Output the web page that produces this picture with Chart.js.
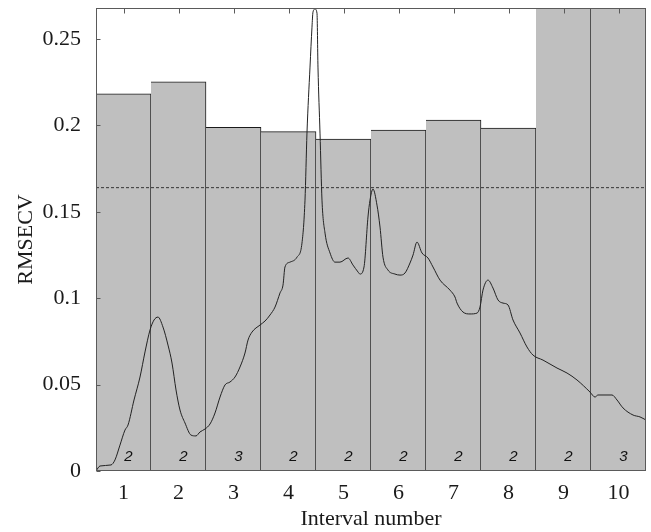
<!DOCTYPE html>
<html>
<head>
<meta charset="utf-8">
<script src="https://cdn.jsdelivr.net/npm/chart.js@4"></script>
<style>
  html, body { margin: 0; padding: 0; background: #fff; }
  #wrap { width: 651px; height: 532px; }
</style>
</head>
<body>
<div id="wrap"><canvas id="chart"></canvas></div>
<script>
"use strict";

// ── Data ──────────────────────────────────────────────────────────
const INTERVALS = ["1","2","3","4","5","6","7","8","9","10"];
const RMSECV    = [0.2183, 0.2253, 0.1989, 0.1964, 0.1921, 0.1973, 0.2031, 0.1985, 0.30, 0.30];
const N_LV      = [2, 2, 3, 2, 2, 2, 2, 2, 2, 3];
const GLOBAL_RMSECV = 0.164;
const Y_TICKS   = [0, 0.05, 0.1, 0.15, 0.2, 0.25];

// mean spectrum, scaled onto the interval axis
const SPEC_X = [0.5,0.573,0.773,0.845,0.936,1.027,1.082,1.191,1.300,1.391,1.482,1.555,1.627,1.718,1.809,1.882,1.955,2.027,2.118,2.227,2.318,2.391,2.482,2.573,2.664,2.755,2.845,2.936,3.027,3.118,3.209,3.264,3.336,3.482,3.573,3.664,3.755,3.845,3.900,3.936,4.027,4.155,4.245,4.300,4.336,4.391,4.427,4.445,4.482,4.518,4.536,4.573,4.609,4.664,4.755,4.845,4.936,5.082,5.173,5.264,5.300,5.373,5.445,5.482,5.536,5.609,5.664,5.718,5.809,5.936,6.027,6.118,6.209,6.264,6.336,6.427,6.536,6.627,6.755,6.936,7.027,7.064,7.173,7.300,7.427,7.482,7.536,7.627,7.718,7.809,7.900,7.991,8.082,8.209,8.336,8.445,8.627,8.882,9.064,9.245,9.482,9.573,9.627,9.882,9.973,10.082,10.264,10.391,10.5];
const SPEC_Y = [0,0.0029,0.0035,0.0064,0.0150,0.0237,0.0266,0.0411,0.0544,0.0689,0.0816,0.0874,0.0891,0.0833,0.0729,0.0625,0.0469,0.0353,0.0278,0.0208,0.0203,0.0226,0.0243,0.0272,0.0336,0.0428,0.0498,0.0515,0.0544,0.0602,0.0683,0.0758,0.0804,0.0845,0.0868,0.0903,0.0949,0.1030,0.1076,0.1181,0.1209,0.1238,0.1319,0.1568,0.1956,0.2338,0.2569,0.2656,0.2674,0.2650,0.2338,0.1956,0.1568,0.1377,0.1262,0.1209,0.1209,0.1233,0.1192,0.1152,0.1140,0.1181,0.1470,0.1568,0.1632,0.1539,0.1412,0.1238,0.1163,0.1140,0.1134,0.1146,0.1204,0.1250,0.1325,0.1262,0.1233,0.1181,0.1105,0.1047,0.1007,0.0972,0.0920,0.0909,0.0914,0.0949,0.1047,0.1105,0.1059,0.0990,0.0972,0.0961,0.0874,0.0799,0.0718,0.0671,0.0642,0.0596,0.0567,0.0527,0.0457,0.0428,0.0440,0.0440,0.0411,0.0365,0.0324,0.0313,0.0295];

// ── Style ─────────────────────────────────────────────────────────
const SERIF    = "'Liberation Serif', 'Times New Roman', serif";
const BAR_FILL = "#bfbfbf";
const INK      = "#1a1a1a";
const FRAME    = "#5a5a5a";

// frame, inward ticks and LV counts inside each bar
const decorations = {
  id: "decorations",
  afterDatasetsDraw(chart) {
    const { ctx, chartArea: a, scales } = chart;
    const L = Math.round(a.left) + 0.5, R = Math.round(a.right) - 0.5;
    const T = Math.round(a.top) + 0.5,  B = Math.round(a.bottom) - 0.5;
    ctx.save();
    ctx.lineWidth = 1;
    ctx.strokeStyle = FRAME;
    ctx.strokeRect(L, T, R - L, B - T);

    ctx.beginPath();
    INTERVALS.forEach((_, i) => {
      const x = Math.round(scales.x.getPixelForValue(i + 1)) + 0.5;
      ctx.moveTo(x, T); ctx.lineTo(x, T + 5);
    });
    Y_TICKS.forEach(v => {
      const y = Math.round(scales.y.getPixelForValue(v)) + 0.5;
      ctx.moveTo(L, y); ctx.lineTo(L + 4, y);
    });
    ctx.stroke();

    ctx.fillStyle = "#111";
    ctx.font = "italic 15px 'Liberation Sans', Arial, sans-serif";
    ctx.textAlign = "center";
    ctx.textBaseline = "middle";
    N_LV.forEach((n, i) => {
      const x = scales.x.getPixelForValue(i + 1 + 0.09);
      const y = scales.y.getPixelForValue(0.008);
      ctx.fillText(String(n), x, y);
    });
    ctx.restore();
  }
};

new Chart(document.getElementById("chart"), {
  type: "bar",
  data: {
    datasets: [
      {
        type: "line",
        data: SPEC_X.map((x, i) => ({ x, y: SPEC_Y[i] })),
        borderColor: "#222",
        borderWidth: 1,
        pointRadius: 0,
        cubicInterpolationMode: "monotone",
        order: 1
      },
      {
        type: "line",
        data: [{ x: 0.5, y: GLOBAL_RMSECV }, { x: 10.5, y: GLOBAL_RMSECV }],
        borderColor: "#333",
        borderWidth: 1,
        borderDash: [3, 2],
        pointRadius: 0,
        order: 2
      },
      {
        data: RMSECV.map((v, i) => ({ x: i + 1, y: v })),
        backgroundColor: BAR_FILL,
        borderColor: INK,
        borderWidth: { top: 1, right: 1, left: 0, bottom: 0 },
        borderSkipped: false,
        barPercentage: 1,
        categoryPercentage: 1,
        grouped: false,
        order: 3
      }
    ]
  },
  options: {
    responsive: true,
    maintainAspectRatio: false,
    animation: false,
    events: [],
    layout: { padding: { top: 8, right: 5, left: 0, bottom: 0 } },
    plugins: { legend: { display: false }, tooltip: { enabled: false } },
    scales: {
      x: {
        type: "linear",
        min: 0.5, max: 10.5,
        offset: false,
        grid: { display: false, offset: false },
        border: { display: false },
        afterBuildTicks: s => { s.ticks = INTERVALS.map((_, i) => ({ value: i + 1 })); },
        ticks: { color: INK, font: { family: SERIF, size: 22 }, padding: 1, maxRotation: 0,
                 callback: v => INTERVALS[Math.round(v) - 1] },
        title: { display: true, text: "Interval number", color: INK,
                 font: { family: SERIF, size: 22 }, padding: { top: 0, bottom: 0 } },
        afterFit: s => { s.height = 61; s.paddingLeft = 0; s.paddingRight = 0; }
      },
      y: {
        min: 0, max: 0.268,
        grid: { display: false },
        border: { display: false },
        afterBuildTicks: s => { s.ticks = Y_TICKS.map(v => ({ value: v })); },
        ticks: { color: INK, font: { family: SERIF, size: 22 }, padding: 7,
                 callback: v => String(+Number(v).toFixed(2)) },
        title: { display: true, text: "RMSECV", color: INK,
                 font: { family: SERIF, size: 22 }, padding: { top: 13, bottom: 0 } },
        afterFit: s => { s.width = 96; s.paddingTop = 0; s.paddingBottom = 0; }
      }
    }
  },
  plugins: [decorations]
});
</script>
</body>
</html>
